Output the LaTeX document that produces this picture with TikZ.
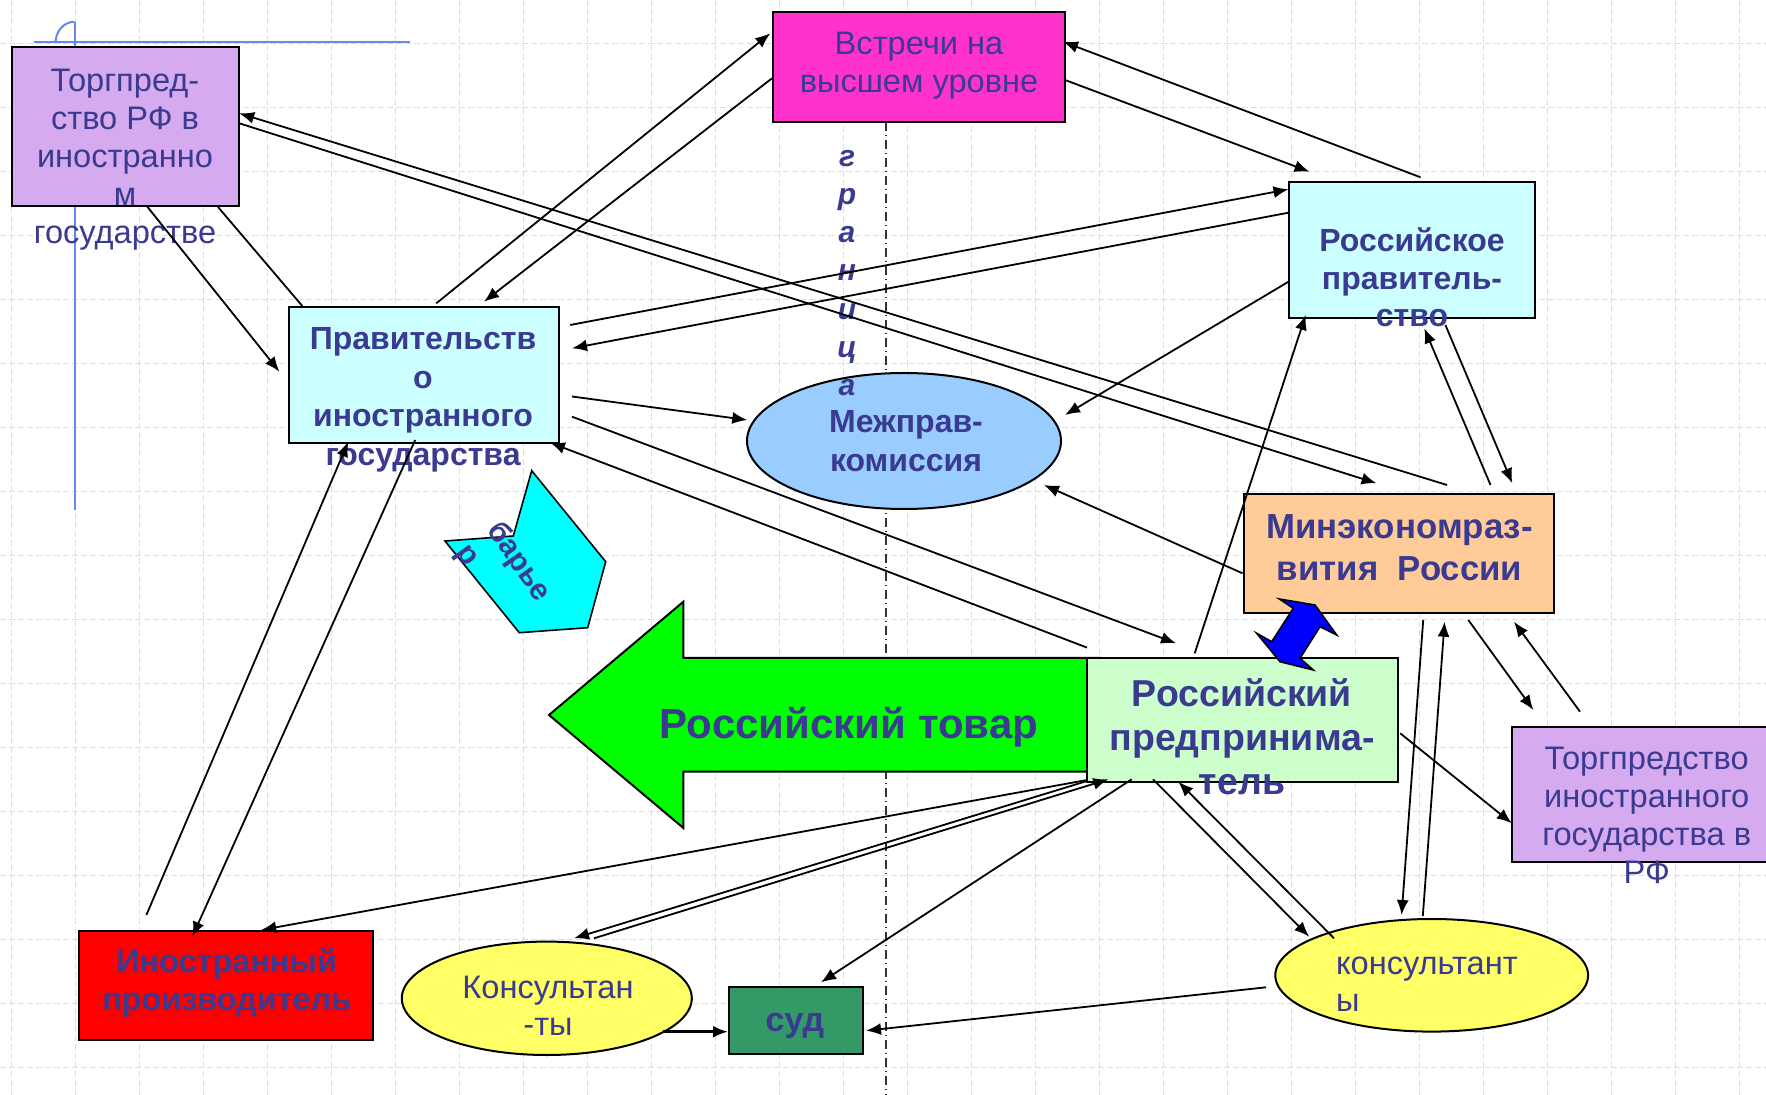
\documentclass[tikz,border=0pt]{standalone}
\usepackage{fontspec}
\setmainfont{Liberation Sans}
\usetikzlibrary{shapes.geometric,arrows.meta}
\definecolor{tc}{RGB}{58,58,145}
\definecolor{gridc}{RGB}{212,222,248}
\definecolor{decoc}{RGB}{102,136,238}
\definecolor{lav}{RGB}{214,170,238}
\definecolor{mag}{RGB}{255,51,204}
\definecolor{lcyan}{RGB}{204,255,255}
\definecolor{lblue}{RGB}{153,204,255}
\definecolor{peach}{RGB}{255,204,153}
\definecolor{lgreen}{RGB}{204,255,204}
\definecolor{yel}{RGB}{255,255,102}
\definecolor{sudc}{RGB}{51,153,102}
\definecolor{barc}{RGB}{0,255,255}
\definecolor{arrg}{RGB}{0,255,0}
\definecolor{dblue}{RGB}{0,0,255}
\definecolor{redc}{RGB}{255,0,0}
\begin{document}
\begin{tikzpicture}[x=0.5pt,y=-0.5pt,
  box/.style={draw=black, line width=1pt, rectangle, inner sep=0pt, outer sep=0pt},
  ell/.style={draw=black, line width=1pt, ellipse, inner sep=0pt, outer sep=0pt},
  tx/.style={text=tc, inner sep=0pt, align=center, font=\fontsize{16.3}{19.25}\selectfont},
  txb/.style={tx, font=\fontsize{16}{19.25}\selectfont\bfseries},
  conn/.style={draw=black, line width=0.9pt, -{Latex[length=7.5pt,width=6pt]}},
  plainconn/.style={draw=black, line width=0.9pt},
  gridl/.style={draw=gridc, line width=0.7pt, dash pattern=on 3pt off 1.5pt},
  deco/.style={draw=decoc, line width=1pt},
  border/.style={draw=black!80, line width=0.6pt, dash pattern=on 4.5pt off 2pt on 0.5pt off 2pt}
]
\useasboundingbox (0,0) rectangle (1766,1095);
\clip (0,0) rectangle (1766,1095);
\fill[white] (0,0) rectangle (1766,1095);
% grid
\foreach \i in {0,...,27} \draw[gridl] ({11.5+64*\i},0) -- ({11.5+64*\i},1095);
\foreach \j in {0,...,16} \draw[gridl] (0,{43.3+64*\j}) -- (1766,{43.3+64*\j});
% decorative lines
\draw[deco] (34.4,42.3) -- (409.5,42.3);
\draw[deco] (74.6,21.7) -- (74.6,510);
\draw[deco] (55.5,43) arc[start angle=180, end angle=270, x radius=19, y radius=21.3];

% nodes (shapes)
\node[box, fill=mag, minimum width=146pt, minimum height=55pt] (vs) at (919,67.3) {};
% border line
\coordinate (bend) at (886,1095);
\draw[border] (vs.south -| bend) -- (bend);

\node[box, fill=lav, minimum width=113.75pt, minimum height=79.5pt] (tl) at (125.25,127) {};
\node[box, fill=lcyan, minimum width=123.25pt, minimum height=68pt] (rp) at (1411.75,250.3) {};
\node[box, fill=lcyan, minimum width=134.85pt, minimum height=68pt] (pi) at (423.85,374.7) {};
\node[ell, fill=lblue, minimum width=157pt, minimum height=68pt] (mk) at (904,441) {};
\node[box, fill=peach, minimum width=155.35pt, minimum height=59.5pt] (me) at (1399,553.8) {};
\node[box, fill=lav, minimum width=134.3pt, minimum height=67.5pt] (tr) at (1646.7,794.2) {};
\node[box, fill=redc, minimum width=147.2pt, minimum height=54.5pt] (ip) at (225.8,985.5) {};
\node[ell, fill=yel, minimum width=145pt, minimum height=56.7pt] (kl) at (546.8,998.3) {};
\node[box, fill=sudc, minimum width=66.9pt, minimum height=33.5pt] (sud) at (795.9,1020.8) {};
\node[ell, fill=yel, minimum width=156.4pt, minimum height=56.3pt] (kr) at (1431.7,975.3) {};

% barrier
\draw[fill=barc, draw=black, line width=0.8pt] (531.7,470.7) -- (605.7,561.7) -- (587.7,627.7) -- (519.3,632.7) -- (445,541) -- (513.3,536) -- cycle;
% big green arrow
\draw[fill=arrg, draw=black, line width=1pt] (549,715) -- (683.4,601.7) -- (683.4,658) -- (1100,658) -- (1100,771.7) -- (683.4,771.7) -- (683.4,828) -- cycle;
\node[box, fill=lgreen, minimum width=155.25pt, minimum height=61.85pt] (rpr) at (1242.25,719.85) {};
% blue double arrow
\draw[fill=dblue, draw=black, line width=0.8pt] (1279.3,599) -- (1315,605) -- (1336.7,635) -- (1320,626.7) -- (1300,658.3) -- (1313.3,670) -- (1280,661.7) -- (1256.7,633.3) -- (1271.7,641.7) -- (1293.3,608.3) -- cycle;

% texts
\node[tx, font=\fontsize{16.3}{19}\selectfont] (tltx) at (125,159.5) {Торгпред-\\ство РФ в\\иностранно\\м\\государстве};
\node[tx] (vstx) at (919,65.8) {Встречи на\\высшем уровне};
\node[txb, font=\fontsize{16}{18.75}\selectfont\bfseries] (rptx) at (1412,277.5) {Российское\\правитель-\\ство};
\node[txb] (pitx) at (423,400) {Правительств\\о\\иностранного\\государства};
\node[txb] (mktx) at (906,441) {Межправ-\\комиссия};
\node[txb, font=\fontsize{15}{19.15}\selectfont\bfseries\itshape] (grtx) at (847,273) {г\\р\\а\\н\\и\\ц\\а};
\node[txb, font=\fontsize{15}{19}\selectfont\bfseries, rotate=-55, align=left] (bartx) at (503,573) {барье\\р};
\node[txb, font=\fontsize{21}{25}\selectfont\bfseries] (tvtx) at (849,727) {Российский товар};
\node[txb, font=\fontsize{18.75}{22}\selectfont\bfseries] (rprtx) at (1242,736.5) {Российский\\предпринима-\\тель};
\node[txb, font=\fontsize{17.4}{20.85}\selectfont\bfseries] (metx) at (1399.5,547.5) {Минэкономраз-\\вития\ \ России};
\node[tx, font=\fontsize{16.3}{19}\selectfont] (trtx) at (1646.7,815) {Торгпредство\\иностранного\\государства в\\РФ};
\node[txb, font=\fontsize{16.2}{19.15}\selectfont\bfseries] (iptx) at (226.7,983) {Иностранный\\производитель};
\node[tx, font=\fontsize{16.3}{18.5}\selectfont] (kltx) at (548,1006) {Консультан\\-ты};
\node[txb, font=\fontsize{17}{20}\selectfont\bfseries] (sudtx) at (795,1026) {суд};
\node[tx, font=\fontsize{16.3}{18.5}\selectfont, align=left, anchor=west] (krtx) at (1335.6,984.2) {консультант\\ы};

% connectors
\draw[conn] ([shift={(22.05,79.7)}]tl.center) -- ([shift={(-144.45,-3)}]pi.center);
\draw[plainconn] ([shift={(92.75,80)}]tl.center) -- ([shift={(-121.55,-68.7)}]pi.center);
\draw[conn] ([shift={(48,-68.8)}]me.center) -- ([shift={(113.95,-13.7)}]tl.center);
\draw[conn] ([shift={(113.95,-3.7)}]tl.center) -- ([shift={(-22.5,-70.5)}]me.center);
\draw[conn] ([shift={(12.45,-71.4)}]pi.center) -- ([shift={(-148.7,-34)}]vs.center);
\draw[conn] ([shift={(-147,11)}]vs.center) -- ([shift={(60.15,-73)}]pi.center);
\draw[conn] ([shift={(8.75,-73)}]rp.center) -- ([shift={(144,-25.6)}]vs.center);
\draw[conn] ([shift={(146,12.7)}]vs.center) -- ([shift={(-102.25,-78.6)}]rp.center);
\draw[conn] ([shift={(146.35,-49.7)}]pi.center) -- ([shift={(-123.25,-61)}]rp.center);
\draw[conn] ([shift={(-123.25,-37.6)}]rp.center) -- ([shift={(148.15,-26.4)}]pi.center);
\draw[conn] ([shift={(148.15,21.8)}]pi.center) -- ([shift={(-156.7,-21)}]mk.center);
\draw[conn] ([shift={(-123.25,31.4)}]rp.center) -- ([shift={(161,-26)}]mk.center);
\draw[conn] ([shift={(-156.5,19.5)}]me.center) -- ([shift={(140,44)}]mk.center);
\draw[conn] ([shift={(148.15,42)}]pi.center) -- ([shift={(-66.25,-76.55)}]rpr.center);
\draw[conn] ([shift={(-155.25,-72.25)}]rpr.center) -- ([shift={(126.15,67.9)}]pi.center);
\draw[conn] ([shift={(-47.55,-66.55)}]rpr.center) -- ([shift={(-106.05,64.7)}]rp.center);
\draw[conn] ([shift={(91.5,-68.8)}]me.center) -- ([shift={(12.55,78)}]rp.center);
\draw[conn] ([shift={(33.65,74.7)}]rp.center) -- ([shift={(113.3,-70.5)}]me.center);
\draw[conn] ([shift={(24.2,66.2)}]me.center) -- ([shift={(-30.1,-60.3)}]kr.center);
\draw[conn] ([shift={(-8.9,-59.3)}]kr.center) -- ([shift={(45.6,67.9)}]me.center);
\draw[conn] ([shift={(69.3,66.2)}]me.center) -- ([shift={(-113.3,-84.2)}]tr.center);
\draw[conn] ([shift={(-66.7,-82.5)}]tr.center) -- ([shift={(115,67.9)}]me.center);
\draw[conn] ([shift={(157.95,13.45)}]rpr.center) -- ([shift={(-134.9,29.1)}]tr.center);
\draw[conn] ([shift={(-89.25,59.45)}]rpr.center) -- ([shift={(-122.5,-38.6)}]kr.center);
\draw[conn] ([shift={(-97.7,-37)}]kr.center) -- ([shift={(-63.95,61.85)}]rpr.center);
\draw[conn] ([shift={(-165.7,12)}]kr.center) -- ([shift={(70.1,9.9)}]sud.center);
\draw[conn] ([shift={(-110.55,59.45)}]rpr.center) -- ([shift={(25.1,-38.5)}]sud.center);
\draw[conn] ([shift={(-155.25,61.15)}]rpr.center) -- ([shift={(27.2,-60)}]kl.center);
\draw[conn] ([shift={(47.2,-60)}]kl.center) -- ([shift={(-133.95,59.45)}]rpr.center);
\draw[conn] ([shift={(-155.25,60.15)}]rpr.center) -- ([shift={(35.4,-55.5)}]ip.center);
\draw[conn] ([shift={(-79.4,-70.5)}]ip.center) -- ([shift={(-75.55,67)}]pi.center);
\draw[conn] ([shift={(-8.65,65.3)}]pi.center) -- ([shift={(-33.5,-48.8)}]ip.center);
\draw[conn, line width=1.3pt] ([shift={(116.2,33.4)}]kl.center) -- ([shift={(-67.9,10.9)}]sud.center);
\end{tikzpicture}
\end{document}
